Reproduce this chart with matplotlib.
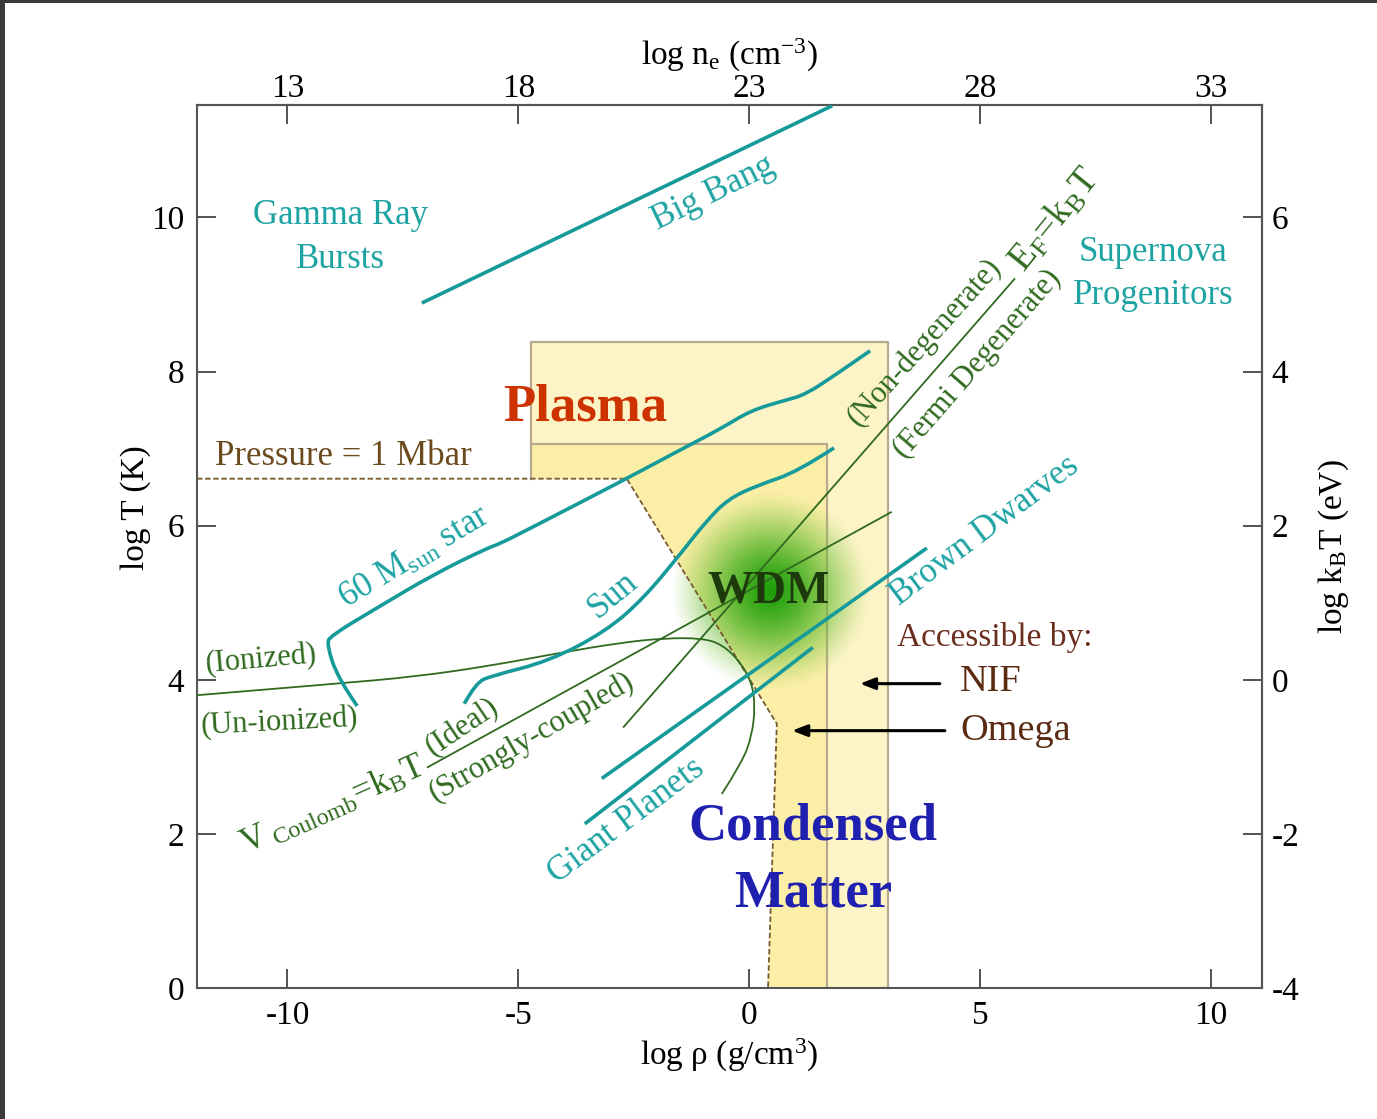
import numpy as np
import matplotlib
matplotlib.use("Agg")
import matplotlib.pyplot as plt
from matplotlib.patches import Polygon, Rectangle, PathPatch
from matplotlib.path import Path

plt.rcParams['font.family'] = ['Liberation Serif', 'DejaVu Serif']
plt.rcParams['mathtext.fontset'] = 'custom'
plt.rcParams['mathtext.rm'] = 'Liberation Serif'
plt.rcParams['mathtext.it'] = 'Liberation Serif:italic'
plt.rcParams['mathtext.bf'] = 'Liberation Serif:bold'
plt.rcParams['axes.unicode_minus'] = False

# log rho (g/cm^3) vs log T (K)
big_bang_x = [-7.09, 1.80]
big_bang_y = [8.89, 11.45]

star60_x = [-8.49, -8.91, -9.15, -9.07, -8.07, -6.83, -5.67, -5.42, -4.76, -2.69,
            -1.44, -0.61, 0.05, 0.80, 1.21, 1.88, 2.62]
star60_y = [3.66, 4.02, 4.46, 4.57, 4.93, 5.37, 5.71, 5.76, 5.96, 6.60,
            7.00, 7.26, 7.50, 7.63, 7.70, 7.96, 8.27]

sun_x = [-6.17, -5.92, -5.59, -4.34, -3.10, -2.28, -1.44, -0.94, -0.45, 0.21, 1.05, 1.84]
sun_y = [3.69, 3.96, 4.05, 4.24, 4.63, 5.06, 5.67, 6.05, 6.35, 6.53, 6.70, 7.01]

brown_dwarf_x = [-3.19, 3.85]
brown_dwarf_y = [2.72, 5.71]
giant_planet_x = [-3.56, 1.38]
giant_planet_y = [2.13, 4.42]

ioniz_x = [-11.96, -8.93, -7.24, -5.62, -4.10, -2.80, -1.85, -1.02, -0.59, -0.20,
           0.06, 0.13, 0.06, -0.16, -0.59]
ioniz_y = [3.80, 3.95, 4.04, 4.18, 4.35, 4.48, 4.54, 4.54, 4.46, 4.24,
           3.96, 3.66, 3.27, 2.92, 2.52]

coulomb_x = [-6.98, 3.09]
coulomb_y = [2.86, 6.18]
fermi_x = [-2.73, 5.76]
fermi_y = [3.38, 9.21]

# 1 Mbar isobar
mbar_x = [-11.96, -2.65, 0.60, 0.41]
mbar_y = [6.61, 6.61, 3.43, 0.0]

# facility reach (NIF outer box, Omega inner box): left, right, top
nif_box = [-4.73, 3.01, 8.38]
omega_box = [-4.73, 1.69, 7.06]

wdm_center = (0.45, 5.15)

teal = '#179a9a'
teal_txt = '#1ea3a3'
dgreen = '#2f6a1f'
edge = '#b8a88e'

fig = plt.figure(figsize=(13.77, 11.19), dpi=100)
ax = fig.add_axes([197 / 1377, 1 - 988 / 1119, (1262 - 197) / 1377, (988 - 105) / 1119])


def region(box):
    # box area above the isobar and right of its diagonal leg
    return [(box[0], box[2]), (box[1], box[2]), (box[1], 0), (mbar_x[3], 0),
            (mbar_x[2], mbar_y[2]), (mbar_x[1], mbar_y[1]), (box[0], mbar_y[1])]


ax.add_patch(Polygon(region(nif_box), closed=True, facecolor='#fcf4c6', edgecolor='none', zorder=1))
ax.add_patch(Polygon(region(omega_box), closed=True, facecolor='#fbefa8', edgecolor='none', zorder=1.1))
ax.plot([nif_box[0], nif_box[0], nif_box[1], nif_box[1]], [mbar_y[1], nif_box[2], nif_box[2], 0],
        color=edge, lw=1.6, zorder=1.2)
ax.plot([omega_box[0], omega_box[1], omega_box[1]], [omega_box[2], omega_box[2], 0],
        color=edge, lw=1.6, zorder=1.2)

# warm dense matter glow
g = np.linspace(-1, 1, 301)
GX, GY = np.meshgrid(g, g)
r = np.hypot(GX, GY)
a = np.clip(1 - r ** 2, 0, 1) ** 1.2
c0 = np.array([0.11, 0.62, 0.04])
c1 = np.array([0.55, 0.80, 0.28])
t = np.clip(r, 0, 1)[..., None]
rgba = np.dstack([c0 * (1 - t) + c1 * t, a])
rx, ry = 100 / 46.16, 100 / 77.3
ax.imshow(rgba, extent=[wdm_center[0] - rx, wdm_center[0] + rx,
                        wdm_center[1] - ry, wdm_center[1] + ry],
          aspect='auto', interpolation='bilinear', zorder=2)

ax.plot(mbar_x, mbar_y, color='#7a5a30', lw=1.3, ls=(0, (3, 1.5)), zorder=2.5)


def smooth(xs, ys, **kw):
    # quadratic Bezier through segment midpoints, vertices as control points
    pts = list(zip(xs, ys))
    verts = [pts[0]]
    codes = [Path.MOVETO]
    for i in range(1, len(pts) - 1):
        mid = ((pts[i][0] + pts[i + 1][0]) / 2, (pts[i][1] + pts[i + 1][1]) / 2)
        verts += [pts[i], mid if i < len(pts) - 2 else pts[-1]]
        codes += [Path.CURVE3, Path.CURVE3]
    if len(pts) == 2:
        verts.append(pts[1])
        codes.append(Path.LINETO)
    ax.add_patch(PathPatch(Path(verts, codes), fill=False, **kw))


# green boundaries
for xs, ys in [(ioniz_x, ioniz_y), (coulomb_x, coulomb_y), (fermi_x, fermi_y)]:
    smooth(xs, ys, edgecolor=dgreen, lw=1.3, zorder=3)

# astrophysical tracks
for xs, ys in [(big_bang_x, big_bang_y), (star60_x, star60_y), (sun_x, sun_y),
               (brown_dwarf_x, brown_dwarf_y), (giant_planet_x, giant_planet_y)]:
    smooth(xs, ys, edgecolor=teal, lw=2.6, zorder=3, capstyle='butt', joinstyle='round')


def label(x, y, s, rot=0, **kw):
    ax.text(x, y, s, rotation=rot, rotation_mode='anchor', ha=kw.pop('ha', 'center'),
            va='center', zorder=4, **kw)


label(-8.86, 10.03, 'Gamma Ray', fontsize=25, color=teal_txt)
label(-8.86, 9.46, 'Bursts', fontsize=25, color=teal_txt)
label(8.75, 9.55, 'Supernova', fontsize=25, color=teal_txt)
label(8.75, 8.99, 'Progenitors', fontsize=25, color=teal_txt)
label(-0.78, 10.32, 'Big Bang', 26, fontsize=25, color=teal_txt)
label(-7.24, 5.58, r'60 M$_\mathrm{sun}$ star', 31, fontsize=25, color=teal_txt)
label(-2.95, 5.10, 'Sun', 40, fontsize=25, color=teal_txt)
label(-2.65, 2.17, 'Giant Planets', 37, fontsize=25, color=teal_txt)
label(5.11, 5.93, 'Brown Dwarves', 37, fontsize=25, color=teal_txt)

label(-10.57, 4.26, '(Ionized)', 5, fontsize=22, color=dgreen)
label(-10.18, 3.44, '(Un-ionized)', 3, fontsize=22, color=dgreen)
label(-6.22, 3.38, '(Ideal)', 34, fontsize=22, color=dgreen)
label(-4.72, 3.25, '(Strongly-coupled)', 30, fontsize=22, color=dgreen)
label(-9.00, 2.37, r'V$_\mathrm{\ Coulomb}$=k$_\mathrm{B}$T', 24, fontsize=25, color=dgreen)
label(3.81, 8.38, '(Non-degenerate)', 48, fontsize=22, color=dgreen)
label(4.94, 8.10, '(Fermi Degenerate)', 49, fontsize=22, color=dgreen)
label(6.62, 9.97, r'E$_\mathrm{F}$=k$_\mathrm{B}$T', 51, fontsize=27, color=dgreen)

label(-11.57, 6.90, 'Pressure = 1 Mbar', ha='left', fontsize=25, color='#6b4a1e')
label(-3.56, 7.53, 'Plasma', fontsize=38, fontweight='bold', color='#cc3300')
label(0.42, 5.15, 'WDM', fontsize=33, fontweight='bold', color='#1c3a0c')
label(1.38, 2.10, 'Condensed', fontsize=38, fontweight='bold', color='#2020b0')
label(1.38, 1.23, 'Matter', fontsize=38, fontweight='bold', color='#2020b0')

label(3.20, 4.55, 'Accessible by:', ha='left', fontsize=24, color='#6b2e1e')
label(4.57, 3.97, 'NIF', ha='left', fontsize=27.5, color='#5a2a12')
label(4.57, 3.34, 'Omega', ha='left', fontsize=27.5, color='#5a2a12')
arrow = dict(arrowstyle='-|>,head_length=0.9,head_width=0.35', color='black', lw=2.2,
             shrinkA=0, shrinkB=0)
ax.annotate('', xy=(2.40, 3.95), xytext=(4.13, 3.95), arrowprops=arrow, zorder=4)
ax.annotate('', xy=(0.93, 3.34), xytext=(4.24, 3.34), arrowprops=arrow, zorder=4)

# axes
ax.set_xlim(-11.96, 11.11)
ax.set_ylim(0, 11.46)
ax.set_xticks([-10, -5, 0, 5, 10])
ax.set_yticks([0, 2, 4, 6, 8, 10])
ax.tick_params(direction='in', length=14, width=1.3, color='#444444', labelsize=24, pad=9)
for s in ax.spines.values():
    s.set_color('#555555')
    s.set_linewidth(1.5)
ax.set_xlabel('log ρ (g/cm$^3$)', fontsize=24)
ax.set_ylabel('log T (K)', fontsize=24)
ax.xaxis.set_label_coords(0.5, -0.055)
ax.yaxis.set_label_coords(-0.043, 0.544)

top = ax.secondary_xaxis('top', functions=(lambda x: x + 23, lambda n: n - 23))
top.set_xticks([13, 18, 23, 28, 33])
top.tick_params(direction='in', length=14, width=1.3, color='#444444', labelsize=24, pad=1)
top.set_xlabel(r'log n$_\mathrm{e}$ (cm$^{-3}$)', fontsize=24, labelpad=6)
top.spines['top'].set_color('#555555')
top.spines['top'].set_linewidth(1.5)

right = ax.secondary_yaxis('right', functions=(lambda y: y - 4, lambda e: e + 4))
right.set_yticks([-4, -2, 0, 2, 4, 6])
right.tick_params(direction='in', length=14, width=1.3, color='#444444', labelsize=24, pad=7)
right.set_ylabel(r'log k$_\mathrm{B}$T (eV)', fontsize=24, labelpad=12)
right.spines['right'].set_color('#555555')
right.spines['right'].set_linewidth(1.5)

# dark frame strips along the left and top edges
fig.add_artist(Rectangle((0, 0), 5 / 1377, 1, transform=fig.transFigure,
                         facecolor='#3a3a3a', edgecolor='none'))
fig.add_artist(Rectangle((0, 1 - 3 / 1119), 1, 3 / 1119, transform=fig.transFigure,
                         facecolor='#3a3a3a', edgecolor='none'))

fig.savefig('out.png', dpi=100)
